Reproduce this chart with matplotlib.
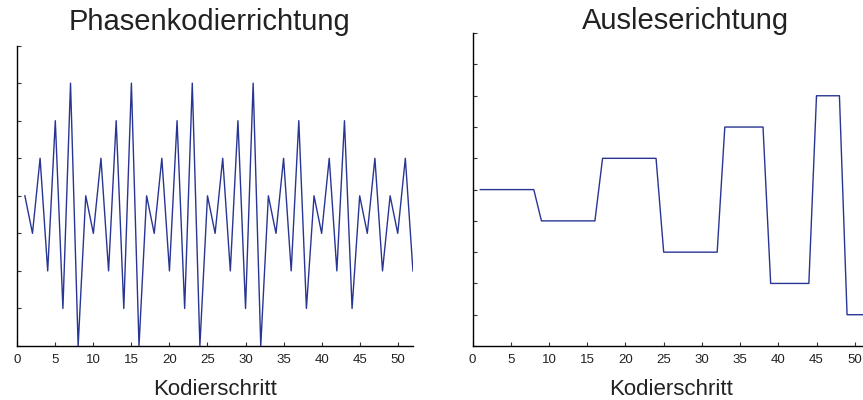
import numpy as np
import matplotlib.pyplot as plt

plt.rcParams['font.family'] = ['Liberation Sans', 'DejaVu Sans']

# Kodierschritte 1..52
schritt = np.arange(1, 53)

# Phasenkodierrichtung (Stufen 0..8)
phase = [4, 3, 5, 2, 6, 1, 7, 0,
         4, 3, 5, 2, 6, 1, 7, 0,
         4, 3, 5, 2, 6, 1, 7, 0,
         4, 3, 5, 2, 6, 1, 7, 0,
         4, 3, 5, 2, 6, 1,
         4, 3, 5, 2, 6, 1,
         4, 3, 5, 2,
         4, 3, 5, 2]

# Ausleserichtung (Stufen 0..10)
auslese = [5] * 8 + [4] * 8 + [6] * 8 + [3] * 8 + [7] * 6 + [2] * 6 + [8] * 4 + [1] * 4

xticks = np.arange(0, 51, 5)
linecol = '#283593'

fig = plt.figure(figsize=(8.63, 4), dpi=100)

ax1 = fig.add_axes([0.0200, 0.135, 0.4585, 0.751])
ax2 = fig.add_axes([0.5477, 0.135, 0.4604, 0.782])

#left: phase encoding
ax1.plot(schritt, phase, color=linecol, lw=1.0)
ax1.set_xlim(0, 52)
ax1.set_ylim(0, 8)
ax1.set_yticks(np.arange(0, 9))

#right: readout
ax2.plot(schritt, auslese, color=linecol, lw=1.0)
ax2.set_xlim(0, 52)
ax2.set_ylim(0, 10)
ax2.set_yticks(np.arange(0, 11))

for ax in (ax1, ax2):
    ax.set_xticks(xticks)
    ax.set_yticklabels([])
    ax.spines['top'].set_visible(False)
    ax.spines['right'].set_visible(False)
    ax.spines['left'].set_linewidth(1.0)
    ax.spines['bottom'].set_linewidth(1.0)
    ax.tick_params(direction='in', length=3, width=0.8, colors='#333333',
                   labelsize=9.5, pad=6)
    ax.tick_params(axis='x', labelcolor='#222222')
    ax.set_xlabel('Kodierschritt', fontsize=16, color='#222222', labelpad=9)

fig.text(209.5 / 863, 1 - 30 / 400, 'Phasenkodierrichtung', fontsize=21,
         ha='center', va='baseline', color='#222222')
fig.text(685 / 863, 1 - 29 / 400, 'Ausleserichtung', fontsize=21,
         ha='center', va='baseline', color='#222222')

fig.savefig('out.png', dpi=100)
